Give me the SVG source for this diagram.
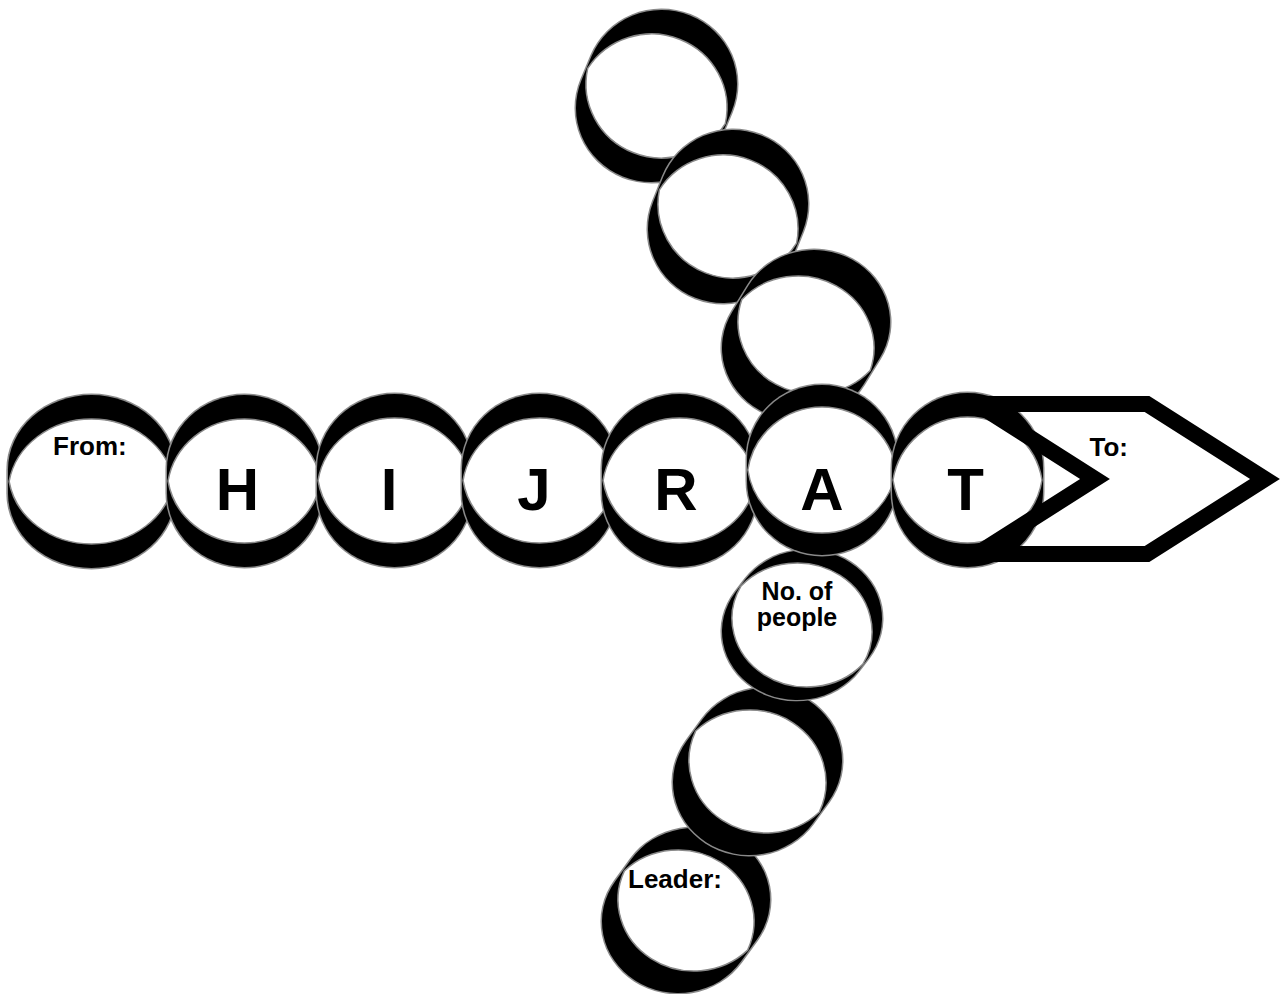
<svg xmlns="http://www.w3.org/2000/svg" width="1287" height="994" viewBox="0 0 1287 994">
<style>
.hull-o{fill:none;stroke:#8a8a8a;stroke-width:2.04;stroke-linecap:round}
.hull{fill:none;stroke:#000;stroke-width:2;stroke-linecap:round}
.lens{fill:#fff;stroke:#8a8a8a;stroke-width:1.5;vector-effect:non-scaling-stroke}
.big{font-family:"Liberation Sans",Arial,sans-serif;font-weight:bold;font-size:60px;text-anchor:middle;fill:#000}
.lbl{font-family:"Liberation Sans",Arial,sans-serif;font-weight:bold;font-size:26px;fill:#000}
.arrow{fill:none;stroke:#000;stroke-width:16;stroke-linejoin:miter;stroke-miterlimit:6}
</style>
<rect width="1287" height="994" fill="#fff"/>
<g id="connectors"></g>

<g id="ring-from">
 <g transform="translate(91.5 481.5) scale(83.5 74.5)">
  <line class="hull-o" x1="0" y1="-0.1611" x2="0" y2="0.1611"/>
  <line class="hull" x1="0" y1="-0.1611" x2="0" y2="0.1611"/>
  <path class="lens" d="M0.98694 0A1 1 0 0 1 -0.98694 0A1 1 0 0 1 0.98694 0Z"/>
 </g>
 <text class="lbl" x="53" y="455">From:</text>
</g>

<g id="ring-h">
 <g transform="translate(244.5 481) scale(77.5 74)">
  <line class="hull-o" x1="0" y1="-0.16216" x2="0" y2="0.16216"/>
  <line class="hull" x1="0" y1="-0.16216" x2="0" y2="0.16216"/>
  <path class="lens" d="M0.98676 0A1 1 0 0 1 -0.98676 0A1 1 0 0 1 0.98676 0Z"/>
 </g>
 <text class="big" x="237.5" y="510">H</text>
</g>

<g id="ring-i">
 <g transform="translate(394.5 480.5) scale(77.5 74.5)">
  <line class="hull-o" x1="0" y1="-0.16107" x2="0" y2="0.16107"/>
  <line class="hull" x1="0" y1="-0.16107" x2="0" y2="0.16107"/>
  <path class="lens" d="M0.98694 0A1 1 0 0 1 -0.98694 0A1 1 0 0 1 0.98694 0Z"/>
 </g>
 <text class="big" x="389" y="510">I</text>
</g>

<g id="ring-j">
 <g transform="translate(539.5 480.5) scale(77.5 74.5)">
  <line class="hull-o" x1="0" y1="-0.16107" x2="0" y2="0.16107"/>
  <line class="hull" x1="0" y1="-0.16107" x2="0" y2="0.16107"/>
  <path class="lens" d="M0.98694 0A1 1 0 0 1 -0.98694 0A1 1 0 0 1 0.98694 0Z"/>
 </g>
 <text class="big" x="534" y="510">J</text>
</g>

<g id="ring-r">
 <g transform="translate(679.5 480.5) scale(77.5 74.5)">
  <line class="hull-o" x1="0" y1="-0.16107" x2="0" y2="0.16107"/>
  <line class="hull" x1="0" y1="-0.16107" x2="0" y2="0.16107"/>
  <path class="lens" d="M0.98694 0A1 1 0 0 1 -0.98694 0A1 1 0 0 1 0.98694 0Z"/>
 </g>
 <text class="big" x="676" y="510">R</text>
</g>

<g id="ring-v1">
 <g transform="translate(656.5 96) scale(75.5 74)">
  <line class="hull-o" x1="0.06623" y1="-0.16216" x2="-0.06623" y2="0.16216"/>
  <line class="hull" x1="0.06623" y1="-0.16216" x2="-0.06623" y2="0.16216"/>
  <path class="lens" d="M0.91147 0.37227A1 1 0 0 1 -0.91147 -0.37227A1 1 0 0 1 0.91147 0.37227Z"/>
 </g>
</g>

<g id="ring-v2">
 <g transform="translate(728 216.5) scale(75 74)">
  <line class="hull-o" x1="0.06667" y1="-0.16892" x2="-0.06667" y2="0.16892"/>
  <line class="hull" x1="0.06667" y1="-0.16892" x2="-0.06667" y2="0.16892"/>
  <path class="lens" d="M0.91471 0.36102A1 1 0 0 1 -0.91471 -0.36102A1 1 0 0 1 0.91471 0.36102Z"/>
 </g>
</g>

<g id="ring-v3">
 <g transform="translate(806 335) scale(76 72)">
  <line class="hull-o" x1="0.10526" y1="-0.18056" x2="-0.10526" y2="0.18056"/>
  <line class="hull" x1="0.10526" y1="-0.18056" x2="-0.10526" y2="0.18056"/>
  <path class="lens" d="M0.84485 0.49252A1 1 0 0 1 -0.84485 -0.49252A1 1 0 0 1 0.84485 0.49252Z"/>
 </g>
</g>

<g id="ring-leader">
 <g transform="translate(686 910.5) scale(76 71.5)">
  <line class="hull-o" x1="0.10526" y1="-0.15385" x2="-0.10526" y2="0.15385"/>
  <line class="hull" x1="0.10526" y1="-0.15385" x2="-0.10526" y2="0.15385"/>
  <path class="lens" d="M0.81086 0.55477A1 1 0 0 1 -0.81086 -0.55477A1 1 0 0 1 0.81086 0.55477Z"/>
 </g>
 <text class="lbl" x="628" y="888">Leader:</text>
</g>

<g id="ring-v6">
 <g transform="translate(757.5 771.5) scale(76.5 72.5)">
  <line class="hull-o" x1="0.10458" y1="-0.15172" x2="-0.10458" y2="0.15172"/>
  <line class="hull" x1="0.10458" y1="-0.15172" x2="-0.10458" y2="0.15172"/>
  <path class="lens" d="M0.80926 0.55782A1 1 0 0 1 -0.80926 -0.55782A1 1 0 0 1 0.80926 0.55782Z"/>
 </g>
</g>

<g id="ring-people">
 <g transform="translate(802 625) scale(75 68.5)">
  <line class="hull-o" x1="0.06667" y1="-0.09489" x2="-0.06667" y2="0.09489"/>
  <line class="hull" x1="0.06667" y1="-0.09489" x2="-0.06667" y2="0.09489"/>
  <path class="lens" d="M0.81271 0.57101A1 1 0 0 1 -0.81271 -0.57101A1 1 0 0 1 0.81271 0.57101Z"/>
 </g>
 <text class="lbl" x="797" y="600" text-anchor="middle" style="font-size:25px">No. of</text>
 <text class="lbl" x="797" y="626" text-anchor="middle" style="font-size:25px">people</text>
</g>

<g id="ring-a">
 <g transform="translate(822 470) scale(75 74)">
  <line class="hull-o" x1="0" y1="-0.14865" x2="0" y2="0.14865"/>
  <line class="hull" x1="0" y1="-0.14865" x2="0" y2="0.14865"/>
  <path class="lens" d="M0.98889 0A1 1 0 0 1 -0.98889 0A1 1 0 0 1 0.98889 0Z"/>
 </g>
 <text class="big" x="822" y="510">A</text>
</g>

<g id="ring-t">
 <g transform="translate(967.5 480) scale(75.5 75)">
  <line class="hull-o" x1="0" y1="-0.16" x2="0" y2="0.16"/>
  <line class="hull" x1="0" y1="-0.16" x2="0" y2="0.16"/>
  <path class="lens" d="M0.98712 0A1 1 0 0 1 -0.98712 0A1 1 0 0 1 0.98712 0Z"/>
 </g>
 <text class="big" x="965.5" y="510">T</text>
</g>

<g id="to-arrow">
 <polygon class="arrow" points="977,404 1147,404 1265,479 1147,554 977,554 1095,479"/>
 <text class="lbl" x="1089.5" y="456">To:</text>
</g>
</svg>
